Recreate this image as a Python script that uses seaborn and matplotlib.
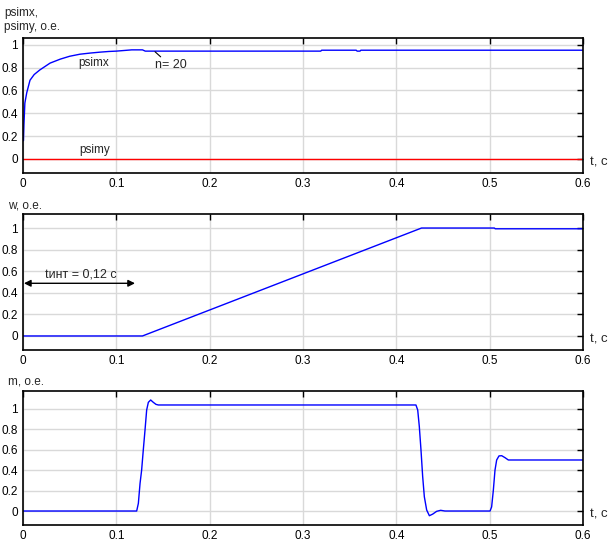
import numpy as np
import pandas as pd
import matplotlib
matplotlib.use("Agg")
import matplotlib.pyplot as plt
import seaborn as sns

# psimx / psimy, o.e.
t_psimx = [0.0005, 0.001, 0.002, 0.004, 0.0075, 0.012, 0.018, 0.029, 0.040, 0.050,
           0.061, 0.072, 0.0825, 0.092, 0.100, 0.1165, 0.128, 0.131, 0.20, 0.319,
           0.320, 0.357, 0.358, 0.361, 0.362, 0.6]
psimx = [0.16, 0.30, 0.49, 0.58, 0.69, 0.74, 0.78, 0.84, 0.875, 0.90,
         0.918, 0.928, 0.936, 0.942, 0.945, 0.956, 0.956, 0.945, 0.945, 0.945,
         0.953, 0.953, 0.945, 0.945, 0.953, 0.953]
t_psimy = [0.0, 0.6]
psimy = [0.0, 0.0]

# w, o.e.
t_w = [0.0, 0.128, 0.427, 0.505, 0.506, 0.6]
w = [0.0, 0.0, 1.0, 1.0, 0.993, 0.993]

# m, o.e.
t_m = [0.0, 0.1218, 0.1236, 0.1254, 0.1271, 0.1289, 0.1307, 0.1325, 0.1343, 0.1368,
       0.1396, 0.1425, 0.145, 0.421, 0.4229, 0.4246, 0.4264, 0.4282, 0.430, 0.4325,
       0.4354, 0.439, 0.4432, 0.4475, 0.4521, 0.5004, 0.5021, 0.5039, 0.5057, 0.5075,
       0.510, 0.5129, 0.5164, 0.520, 0.6]
m = [0.0, 0.0, 0.075, 0.27, 0.40, 0.60, 0.79, 0.99, 1.065, 1.088,
     1.065, 1.045, 1.039, 1.039, 0.99, 0.83, 0.60, 0.34, 0.14, 0.01,
     -0.046, -0.03, -0.003, 0.007, 0.0, 0.0, 0.04, 0.20, 0.40, 0.50,
     0.54, 0.542, 0.523, 0.50, 0.50]

x_ticks = [0, 0.1, 0.2, 0.3, 0.4, 0.5, 0.6]
x_labels = ["0", "0.1", "0.2", "0.3", "0.4", "0.5", "0.6"]
y_ticks = [0, 0.2, 0.4, 0.6, 0.8, 1.0]
y_labels = ["0", "0.2", "0.4", "0.6", "0.8", "1"]

sns.set_style("white")
plt.rcParams['font.family'] = ['Liberation Sans', 'DejaVu Sans']
fs = 8.5

fig = plt.figure(figsize=(6.12, 5.48), dpi=100)
left, width = 23 / 612, 560 / 612
ax1 = fig.add_axes([left, 1 - 173 / 548, width, 135 / 548])
ax2 = fig.add_axes([left, 1 - 350 / 548, width, 136 / 548])
ax3 = fig.add_axes([left, 1 - 525 / 548, width, 134 / 548])

blue = "#0000ff"
red = "#ff0000"

sns.lineplot(x=t_psimx, y=psimx, ax=ax1, color=blue, lw=1.0, estimator=None, sort=False)
sns.lineplot(x=t_psimy, y=psimy, ax=ax1, color=red, lw=1.0, estimator=None, sort=False)
sns.lineplot(x=t_w, y=w, ax=ax2, color=blue, lw=1.0, estimator=None, sort=False)
sns.lineplot(x=t_m, y=m, ax=ax3, color=blue, lw=1.0, estimator=None, sort=False)

ylims = [(-0.123, 1.06), (-0.13, 1.13), (-0.137, 1.176)]
for ax, yl in zip([ax1, ax2, ax3], ylims):
    ax.set_xlim(0, 0.6)
    ax.set_ylim(*yl)
    ax.set_xticks(x_ticks)
    ax.set_xticklabels(x_labels)
    ax.set_yticks(y_ticks)
    ax.set_yticklabels(y_labels)
    ax.grid(True, color="#d9d9d9", lw=1.0)
    ax.set_axisbelow(True)
    ax.tick_params(direction="in", length=4, width=1, top=True, right=True,
                   labelsize=fs, pad=3.5, colors="black")
    for s in ax.spines.values():
        s.set_color("black")
        s.set_linewidth(1.2)
    ax.text(1.012, 0.03, "t, c", transform=ax.transAxes, fontsize=9.5,
            ha="left", va="bottom")

# labels
fig.text(4 / 612, 1 - 13 / 548, "psimx,", fontsize=fs, va="center")
fig.text(4 / 612, 1 - 27 / 548, "psimy, o.e.", fontsize=fs, va="center")
fig.text(8 / 612, 1 - 206 / 548, "w, o.e.", fontsize=fs, va="center")
fig.text(8 / 612, 1 - 381 / 548, "m, o.e.", fontsize=fs, va="center")

ax1.text(0.0593, 0.84, "psimx", fontsize=fs, va="center")
ax1.text(0.0603, 0.08, "psimy", fontsize=fs, va="center")
ax1.text(0.1414, 0.825, "n= 20", fontsize=9, va="center")
ax1.annotate("", xy=(0.1414, 0.94), xytext=(0.1475, 0.895),
             arrowprops=dict(arrowstyle="-", lw=0.8, color="black",
                             shrinkA=0, shrinkB=0))

ax2.annotate("", xy=(0.001, 0.488), xytext=(0.12, 0.488),
             arrowprops=dict(arrowstyle="<|-|>", lw=1.0, color="black",
                             mutation_scale=10, shrinkA=0, shrinkB=0))
ax2.text(0.0236, 0.565, "tинт = 0,12 с", fontsize=9, va="center")

fig.savefig("out.png", dpi=100)
